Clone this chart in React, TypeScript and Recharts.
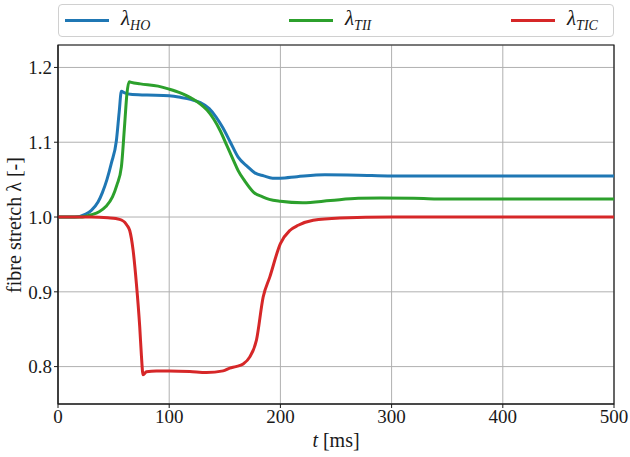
import React from "react";
import { CartesianGrid, Line, LineChart, ReferenceArea, XAxis, YAxis } from "recharts";

// time samples (ms) and stretch values
const hoTimes = [0, 15, 25, 30, 36, 40, 44, 48, 52.5, 55, 57, 60, 65, 80, 100, 110, 120, 128, 136, 142, 148, 155, 162, 170, 177, 185, 193, 200, 215, 240, 270, 300, 350, 400, 500];
const hoValues = [1.0, 1.0, 1.004, 1.009, 1.02, 1.033, 1.05, 1.072, 1.102, 1.14, 1.168, 1.166, 1.164, 1.163, 1.162, 1.16, 1.157, 1.153, 1.145, 1.134, 1.12, 1.1, 1.08, 1.068, 1.059, 1.055, 1.052, 1.052, 1.054, 1.0565, 1.056, 1.055, 1.055, 1.055, 1.055];

const tiiTimes = [0, 20, 30, 37, 43, 49, 53, 57, 60, 62, 64, 66, 74, 90, 100, 110, 116, 122, 128, 134, 140, 146, 152, 158, 162, 168, 176, 184, 190, 200, 220, 245, 270, 290, 320, 350, 400, 500];
const tiiValues = [1.0, 1.0, 1.003, 1.007, 1.014, 1.027, 1.043, 1.067, 1.125, 1.165, 1.181, 1.18, 1.178, 1.175, 1.171, 1.166, 1.162, 1.157, 1.151, 1.143, 1.131, 1.115, 1.095, 1.075, 1.062, 1.048, 1.033, 1.027, 1.0236, 1.021, 1.019, 1.022, 1.025, 1.0253, 1.025, 1.024, 1.024, 1.024];

const ticTimes = [0, 30, 45, 52, 57, 60, 62, 64.5, 67.5, 70.5, 73.5, 75, 76.5, 79.5, 88.5, 100, 118.5, 133.5, 148.5, 154.5, 160, 166.5, 172.5, 178.5, 184.5, 190.5, 200, 208.5, 216, 229.5, 253.5, 300, 400, 500];
const ticValues = [1.0, 1.0, 0.999, 0.998, 0.996, 0.993, 0.989, 0.982, 0.956, 0.911, 0.853, 0.815, 0.789, 0.793, 0.794, 0.794, 0.7933, 0.792, 0.7943, 0.798, 0.8, 0.8035, 0.813, 0.8356, 0.893, 0.92, 0.9645, 0.982, 0.989, 0.9956, 0.9987, 1.0, 1.0, 1.0];

const xTicks = [0, 100, 200, 300, 400, 500];
const yTicks = [0.8, 0.9, 1.0, 1.1, 1.2];

const series = [
  { name: "HO", times: hoTimes, values: hoValues, color: "#1f77b4" },
  { name: "TII", times: tiiTimes, values: tiiValues, color: "#2ca02c" },
  { name: "TIC", times: ticTimes, values: ticValues, color: "#d62728" },
];

const toRows = (times: number[], values: number[]) =>
  times.map((t, i) => ({ t, v: values[i] }));

const font = "'Liberation Serif', 'DejaVu Serif', serif";
const ink = "#1a1a1a";

function XLabel({ viewBox }: any) {
  const cx = viewBox.x + viewBox.width / 2;
  return (
    <text x={cx} y={447} textAnchor="middle" fontFamily={font} fontSize={20} fill={ink}>
      <tspan fontStyle="italic">t</tspan>
      <tspan> [ms]</tspan>
    </text>
  );
}

function YLabel() {
  return (
    <text
      x={0}
      y={0}
      transform="translate(21 225) rotate(-90)"
      textAnchor="middle"
      fontFamily={font}
      fontSize={20}
      fill={ink}
    >
      fibre stretch λ [-]
    </text>
  );
}

const legendLeft = [6, 230, 452];

export default function App() {
  return (
    <div style={{ position: "absolute", left: 0, top: 0, width: 630, height: 457, background: "#fff" }}>
      <LineChart width={630} height={457} margin={{ top: 45, right: 16, bottom: 23, left: 8 }}>
        <CartesianGrid stroke="#b0b0b0" strokeWidth={1} />
        <XAxis
          type="number"
          dataKey="t"
          domain={[0, 500]}
          ticks={xTicks}
          height={30}
          tickSize={4}
          stroke={ink}
          tick={{ fontSize: 19, fontFamily: font, fill: ink }}
          label={<XLabel />}
          allowDataOverflow
        />
        <YAxis
          type="number"
          domain={[0.75, 1.23]}
          ticks={yTicks}
          width={50}
          tickSize={4}
          stroke={ink}
          tickFormatter={(v: number) => v.toFixed(1)}
          tick={{ fontSize: 19, fontFamily: font, fill: ink }}
          label={<YLabel />}
          allowDataOverflow
        />
        {series.map((s) => (
          <Line
            key={s.name}
            data={toRows(s.times, s.values)}
            dataKey="v"
            type="monotone"
            stroke={s.color}
            strokeWidth={3}
            dot={false}
            activeDot={false}
            isAnimationActive={false}
          />
        ))}
        <ReferenceArea x1={0} x2={500} y1={0.75} y2={1.23} fill="none" stroke={ink} strokeWidth={1.2} />
      </LineChart>
      <div
        style={{
          position: "absolute",
          left: 58,
          top: 4,
          width: 556,
          height: 33,
          boxSizing: "border-box",
          border: "1px solid #d0d0d0",
          borderRadius: 4,
          background: "#fff",
        }}
      >
        {series.map((s, i) => (
          <div
            key={s.name}
            style={{ position: "absolute", left: legendLeft[i], top: 0, height: 31, display: "flex", alignItems: "center" }}
          >
            <div style={{ width: 44, height: 3, background: s.color }} />
            <span style={{ marginLeft: 12, fontFamily: font, fontSize: 21, fontStyle: "italic", color: ink }}>
              λ<sub style={{ fontSize: 14 }}>{s.name}</sub>
            </span>
          </div>
        ))}
      </div>
    </div>
  );
}
